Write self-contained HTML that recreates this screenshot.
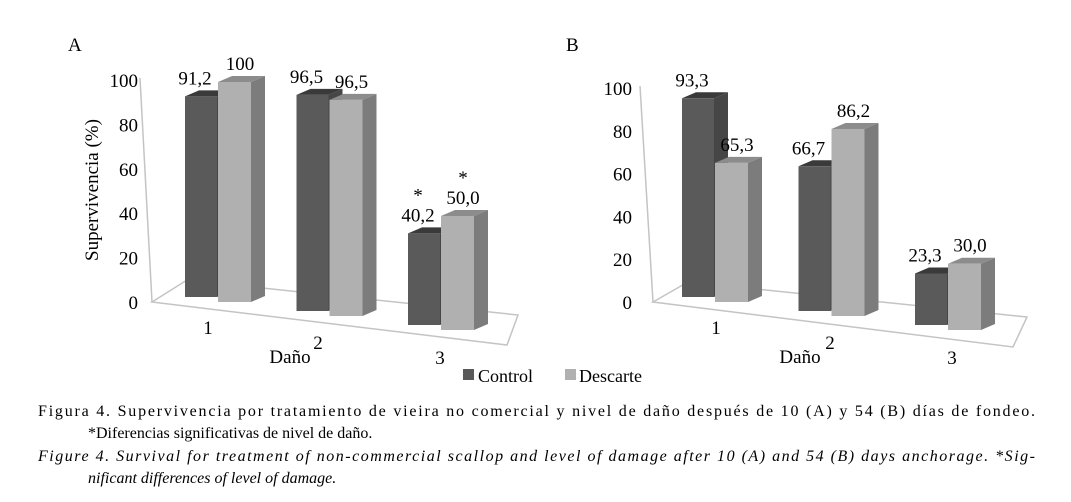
<!DOCTYPE html>
<html><head><meta charset="utf-8"><style>
body{margin:0;background:#fff;}
svg{display:block;font-family:"Liberation Serif",serif;}
</style></head><body>
<svg id="fig" width="1071" height="502" viewBox="0 0 1071 502">
<g id="chartA"></g>
<g id="chartB"></g>
<g font-size="18">
<rect x="463" y="369" width="11" height="11" fill="#5a5a5a"/>
<text x="478" y="382">Control</text>
<rect x="565" y="369" width="11" height="11" fill="#b0b0b0"/>
<text x="579" y="382">Descarte</text>
</g>
<g font-size="16">
<text x="38" y="416" textLength="997" lengthAdjust="spacing">Figura 4. Supervivencia por tratamiento de vieira no comercial y nivel de daño después de 10 (A) y 54 (B) días de fondeo.</text>
<text x="88" y="438">*Diferencias significativas de nivel de daño.</text>
<text x="38" y="461" font-style="italic" textLength="997" lengthAdjust="spacing">Figure 4. Survival for treatment of non-commercial scallop and level of damage after 10 (A) and 54 (B) days anchorage. *Sig-</text>
<text x="88" y="483" font-style="italic">nificant differences of level of damage.</text>
</g>
</svg>
<script>
const categories = ["1","2","3"];
const controlA = [91.2, 96.5, 40.2];
const descarteA = [100, 96.5, 50.0];
const labelsControlA = ["91,2","96,5","40,2"];
const labelsDescarteA = ["100","96,5","50,0"];
const starsA = [false, false, true];
const controlB = [93.3, 66.7, 23.3];
const descarteB = [65.3, 86.2, 30.0];
const labelsControlB = ["93,3","66,7","23,3"];
const labelsDescarteB = ["65,3","86,2","30,0"];
const yTicks = [0,20,40,60,80,100];

const NS="http://www.w3.org/2000/svg";
function mk(p,tag,at){const e=document.createElementNS(NS,tag);for(const k in at)e.setAttribute(k,at[k]);p.appendChild(e);return e;}

function draw(gid, cfg, ctrl, desc, lc, ld, stars){
  const g=document.getElementById(gid);
  const xAt=i=>cfg.x0+cfg.step*i;
  const baseAt=i=>cfg.base0+14*i;
  const kAt=i=>cfg.k0+cfg.dk*i;
  const yAxis=v=>cfg.axBottom-(cfg.axBottom-cfg.axTop)*v/100;
  // floor & axis
  const fl=mk(g,'polygon',{points:cfg.floor,fill:'none',stroke:'#c4c4c4','stroke-width':1.5});
  
  
  const ax=mk(g,'line',{x1:cfg.axX1,y1:cfg.axTop-2,x2:cfg.axX2,y2:cfg.axBottom,stroke:'#c4c4c4','stroke-width':1.5});
  
  
  yTicks.forEach(t=>{
    const tx=mk(g,'text',{x:cfg.tickX,y:yAxis(t)+7,'text-anchor':'end','font-size':19});
    
    
    tx.textContent=t;
  });
  const dx=14, dy=-6;
  function bar(x,w,base,h,cf,ct,cs,name){
    const top=base-h;
    const b=mk(g,'g',{});
    
    
    mk(b,'polygon',{points:`${x+w},${base} ${x+w+dx},${base+dy} ${x+w+dx},${top+dy} ${x+w},${top}`,fill:cs});
    mk(b,'polygon',{points:`${x},${top} ${x+dx},${top+dy} ${x+w+dx},${top+dy} ${x+w},${top}`,fill:ct});
    mk(b,'rect',{x:x,y:top,width:w,height:h,fill:cf});
    return top;
  }
  categories.forEach((c,i)=>{
    const x=xAt(i), base=baseAt(i), k=kAt(i);
    const t1=bar(x,32,base,ctrl[i]*k,'#5a5a5a','#3a3a3a','#464646','bar-control-'+c);
    const t2=bar(x+33,33,base+5,desc[i]*k,'#b0b0b0','#8c8c8c','#7c7c7c','bar-descarte-'+c);
    const l1=mk(g,'text',{x:x+10,y:t1-12,'text-anchor':'middle','font-size':19});
    
    
    l1.textContent=lc[i];
    const l2=mk(g,'text',{x:x+55,y:t2-12,'text-anchor':'middle','font-size':19});
    
    
    l2.textContent=ld[i];
    if(stars[i]){
      [x+10,x+55].forEach((sx,j)=>{
        const s=mk(g,'text',{x:sx,y:(j?t2:t1)-32,'text-anchor':'middle','font-size':19});
        
        
        s.textContent='*';
      });
    }
    const cl=mk(g,'text',{x:cfg.catX[i],y:cfg.catY[i],'text-anchor':'middle','font-size':19});
    
    
    cl.textContent=c;
  });
  const xt=mk(g,'text',{x:cfg.danoX,y:363,'text-anchor':'middle','font-size':19});
  
  
  xt.textContent='Daño';
  const pl=mk(g,'text',{x:cfg.panelX,y:51,'font-size':19});
  
  
  pl.textContent=cfg.panel;
}
draw('chartA',{x0:185,step:111.5,base0:297,k0:2.2,dk:0.04,axTop:80,axBottom:302,axX1:140,axX2:152,tickX:138,
  floor:'152,302 187,280 518,315 507,345',catX:[208,318,440],catY:[334,349,364],danoX:290,panelX:68,panel:'A'},
  controlA,descarteA,labelsControlA,labelsDescarteA,starsA);
draw('chartB',{x0:682,step:116.5,base0:297,k0:2.13,dk:0.04,axTop:88,axBottom:302,axX1:640,axX2:653,tickX:632,
  floor:'653,302 688,282 1027,317 1013,347',catX:[716,830,952],catY:[334,349,364],danoX:800,panelX:566,panel:'B'},
  controlB,descarteB,labelsControlB,labelsDescarteB,[false,false,false]);
const yt=document.createElementNS(NS,'text');
yt.setAttribute('transform','translate(98,190) rotate(-90)');
yt.setAttribute('text-anchor','middle');
yt.setAttribute('font-size','19');


yt.textContent='Supervivencia (%)';
document.getElementById('chartA').appendChild(yt);
</script>
</body></html>
